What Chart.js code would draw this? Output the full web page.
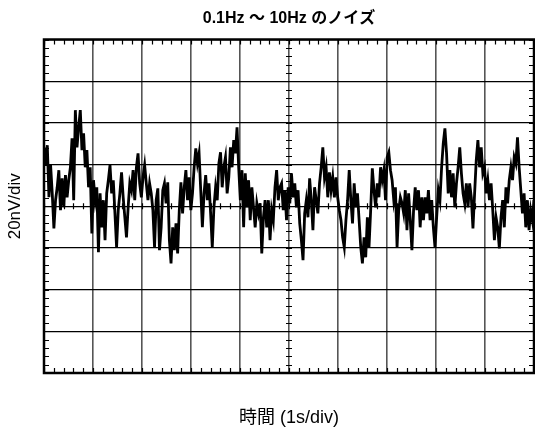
<!DOCTYPE html>
<html><head><meta charset="utf-8">
<script src="https://cdn.jsdelivr.net/npm/chart.js@4"></script>
<style>html,body{margin:0;padding:0;background:#fff}#c{display:block}</style>
</head><body>
<canvas id="c" width="535" height="439"></canvas>
<script>
const chartTitle = '0.1Hz ～ 10Hz のノイズ';
const xTitle = '時間 (1s/div)';
const yTitle = '20nV/div';
const timeSpan = 10;      // seconds (10 div × 1 s/div)
const voltRange = [-80, 80]; // nV (8 div × 20 nV/div)
const timeDiv = 1, voltDiv = 20, minorPerDiv = 5;

// noise trace in nV, uniform sampling over 10 s
const noiseA = [28.3,19.7,29.3,4.3,19.7,6.2,-10.6,2.9,9.1,17.3,-1.9,13.4,-0.5,14.9,4.3,12.5,18.7,32.6,2.9,46.1,28.3,37.9,46.1,26.9,35.0,18.7,26.9,9.1,18.7,-13.0,12.5,2.9,9.1,-22.1,6.2,-10.1,2.9,-16.3,6.2,12.5,19.7,6.2,12.5,-3.4,-19.7,-1.9,6.2,16.3,4.3,-5.3,-14.9,-0.5,11.0,7.7,17.3,2.9,18.7,25.4,11.0,4.3,13.9,19.7,11.0,2.9,11.0,6.2,-1.9,-19.7,2.9,8.6,-21.1];
const noiseB = [-10.1,7.7,11.0,1.4,11.5,-16.3,-27.4,-10.1,-21.1,-8.2,-22.6,-1.9,11.5,-3.4,9.1,17.3,2.9,13.9,-1.9,6.2,18.7,27.8,20.6,25.4,7.7,-10.1,6.2,14.9,2.9,11.0,-3.4,-19.7,-0.5,9.1,2.9,20.6,25.9,9.1,18.7,23.5,6.2,13.9,28.3,18.7,31.7,25.4,37.9,18.7,2.9,17.3,-10.1,15.8,-0.5,12.5,-6.7,9.1,-0.5,-10.1,1.4,-3.4,1.4,-22.6,-5.3,2.9,-10.1,2.9,-16.3,-1.9,-6.7,9.1,17.3,2.9,9.1];
const noiseC = [11.0,-1.9,7.7,-6.7,9.1,1.4,15.8,4.3,11.0,-0.5,7.7,-8.2,-16.3,-25.9,-3.4,2.9,-5.3,13.4,2.9,-11.5,9.1,2.9,-3.4,11.0,18.7,28.3,13.9,18.7,4.3,16.3,7.7,13.9,4.3,13.9,4.3,-1.9,-6.7,-14.9,-19.7,-6.7,2.9,17.3,2.9,-8.2,11.0,-0.5,6.2,-6.7,-19.7,-27.4,-14.9,-24.5,-5.3,-19.7,-1.9,18.2,7.7,-0.5,11.0,4.3,18.7,12.5,17.3,2.9,23.5,25.9,17.3,12.5,2.9,9.1,-19.7,-1.9,4.3];
const noiseD = [1.4,-3.4,7.7,-11.5,6.2,-6.7,-21.1,-1.9,9.1,-1.9,7.7,-10.1,4.3,-6.7,4.3,-3.4,7.7,-6.7,2.9,-10.1,-19.7,-5.3,7.7,2.9,18.7,30.2,37.4,25.4,6.2,17.3,4.3,15.8,-0.5,11.0,18.7,28.3,15.8,6.2,1.4,11.0,-0.5,11.0,4.3,-10.6,6.2,22.1,31.7,18.7,28.3,15.8,18.7,6.2,12.5,2.9,11.0,-1.9,-16.3,-5.3,-10.1,-20.2,-5.3,2.9,-10.1,9.1,1.4,12.5,18.7,12.5,23.5,20.6,33.1,18.7,7.7,-3.4,6.2,-10.1,2.9,-11.5,-1.9,-6.7,2.9];

const noise = noiseA.concat(noiseB, noiseC, noiseD);
const times = noise.map((_, i) => i * timeSpan / (noise.length - 1));

const FONT = "'Liberation Sans', 'Noto Sans CJK JP', sans-serif";

const framePlugin = {
  id: 'scopeFrame',
  afterDatasetsDraw(chart) {
    const {ctx, chartArea: a, scales: {x, y}} = chart;
    const y0 = y.getPixelForValue(0);
    const xc = x.getPixelForValue(timeSpan / 2);
    ctx.save();
    ctx.strokeStyle = '#000';
    ctx.lineWidth = 1.2;
    ctx.beginPath();
    const xs = timeDiv / minorPerDiv;
    for (let i = 0; i <= timeSpan / xs; i++) {
      const px = Math.round(x.getPixelForValue(i * xs)) + 0.5;
      ctx.moveTo(px, a.top); ctx.lineTo(px, a.top + 5);
      ctx.moveTo(px, a.bottom); ctx.lineTo(px, a.bottom - 5);
      ctx.moveTo(px, y0 - 3); ctx.lineTo(px, y0 + 3);
    }
    const ys = voltDiv / minorPerDiv;
    for (let i = 0; i <= (voltRange[1] - voltRange[0]) / ys; i++) {
      const py = Math.round(y.getPixelForValue(voltRange[0] + i * ys)) + 0.5;
      ctx.moveTo(a.left, py); ctx.lineTo(a.left + 5, py);
      ctx.moveTo(a.right, py); ctx.lineTo(a.right - 5, py);
      ctx.moveTo(xc - 3, py); ctx.lineTo(xc + 3, py);
    }
    ctx.stroke();
    ctx.lineWidth = 2.5;
    ctx.strokeRect(a.left, a.top, a.right - a.left, a.bottom - a.top);
    ctx.restore();
  }
};

new Chart(document.getElementById('c'), {
  type: 'line',
  data: {
    datasets: [{
      data: times.map((t, i) => ({x: t, y: noise[i]})),
      borderColor: '#000',
      borderWidth: 2.8,
      borderJoinStyle: 'miter',
      pointRadius: 0,
      tension: 0,
      fill: false
    }]
  },
  options: {
    responsive: false,
    animation: false,
    devicePixelRatio: 1,
    layout: {padding: {left: 0, right: 1, top: 0, bottom: 0}},
    plugins: {
      legend: {display: false},
      tooltip: {enabled: false},
      title: {
        display: true, text: chartTitle, fullSize: false, color: '#000',
        font: {family: FONT, size: 16, weight: 'bold'},
        padding: {top: 9.4, bottom: 10.9}
      }
    },
    scales: {
      x: {
        type: 'linear', min: 0, max: timeSpan,
        ticks: {display: false, stepSize: timeDiv},
        grid: {color: '#555', lineWidth: 1.6, drawTicks: false},
        border: {display: false},
        title: {display: true, text: xTitle, color: '#000',
          font: {family: FONT, size: 18}, padding: {top: 0, bottom: 10.5}},
        afterFit(s) { s.height = 66; }
      },
      y: {
        type: 'linear', min: voltRange[0], max: voltRange[1],
        ticks: {display: false, stepSize: voltDiv},
        grid: {color: '#000', lineWidth: 1.2, drawTicks: false},
        border: {display: false},
        title: {display: true, text: yTitle, color: '#000',
          font: {family: FONT, size: 17}, padding: {top: 5, bottom: 0}},
        afterFit(s) { s.width = 44; }
      }
    }
  },
  plugins: [framePlugin]
});
</script>
</body></html>
